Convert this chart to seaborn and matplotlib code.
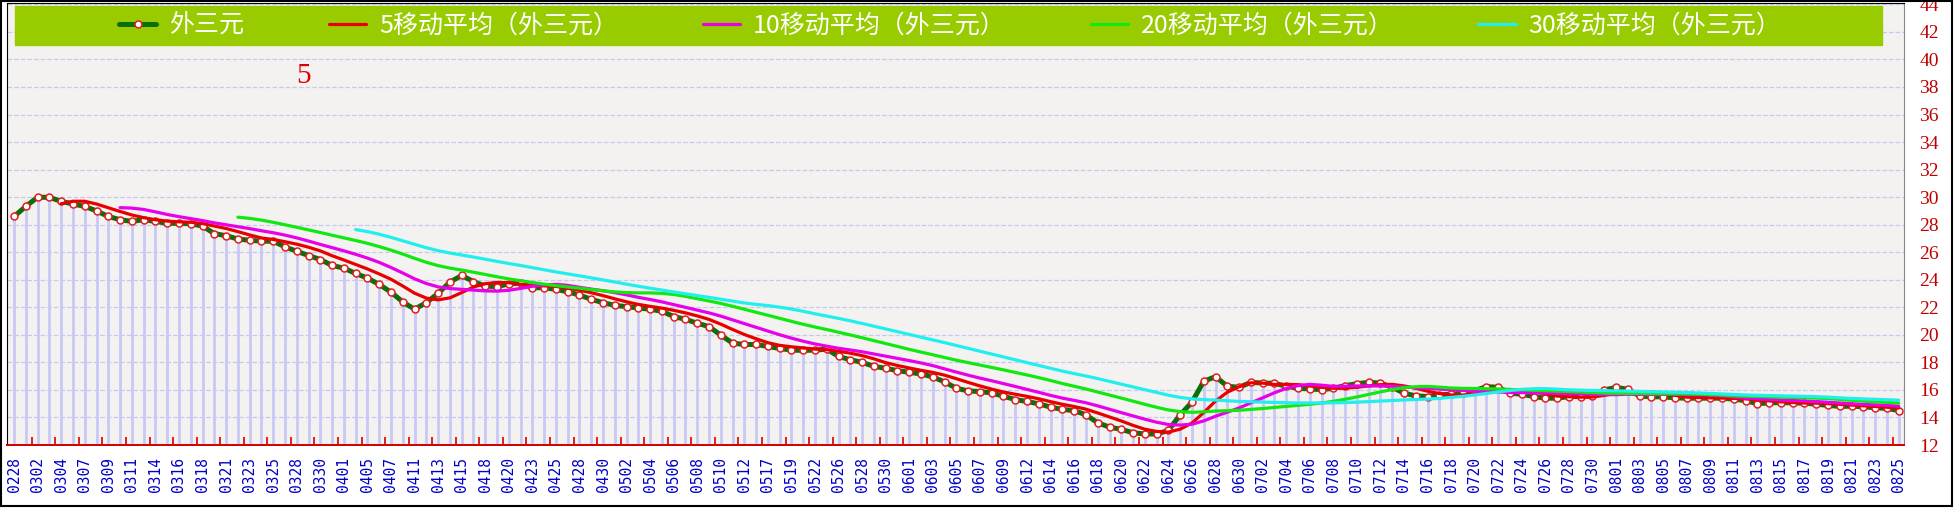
import numpy as np
import pandas as pd
import matplotlib.pyplot as plt
import seaborn as sns

# date labels (every second point carries a label)
dates = ['0228', '0302', '0304', '0307', '0309', '0311', '0314', '0316', '0318', '0321',
         '0323', '0325', '0328', '0330', '0401', '0405', '0407', '0411', '0413', '0415',
         '0418', '0420', '0423', '0425', '0428', '0430', '0502', '0504', '0506', '0508',
         '0510', '0512', '0517', '0519', '0522', '0526', '0528', '0530', '0601', '0603',
         '0605', '0607', '0609', '0612', '0614', '0616', '0618', '0620', '0622', '0624',
         '0626', '0628', '0630', '0702', '0704', '0706', '0708', '0710', '0712', '0714',
         '0716', '0718', '0720', '0722', '0724', '0726', '0728', '0730', '0801', '0803',
         '0805', '0807', '0809', '0811', '0813', '0815', '0817', '0819', '0821', '0823',
         '0825']

# 外三元 price
price_mar = [28.6, 29.33, 30.0, 29.98, 29.7, 29.5, 29.33, 29.0, 28.6, 28.36,
             28.24, 28.36, 28.24, 28.1, 28.1, 28.07, 27.9, 27.35, 27.2, 26.96,
             26.87, 26.8, 26.8, 26.39, 26.07, 25.76, 25.47, 25.04, 24.84, 24.46]
price_apr = [24.12, 23.66, 23.1, 22.39, 21.86, 22.34, 23.01, 23.83, 24.31, 23.87,
             23.54, 23.5, 23.7, 23.75, 23.42, 23.42, 23.3, 23.13, 22.89, 22.58,
             22.34, 22.14, 22.05, 21.95, 21.86, 21.71, 21.33, 21.13, 20.84, 20.6]
price_may = [19.98, 19.4, 19.3, 19.3, 19.16, 19.01, 18.89, 18.87, 18.89, 18.96,
             18.43, 18.19, 18.0, 17.71, 17.57, 17.4, 17.28, 17.16, 16.94, 16.58,
             16.12, 15.93, 15.88, 15.78, 15.54, 15.3, 15.16, 14.99, 14.75, 14.58]
price_jun = [14.5, 14.19, 13.61, 13.3, 13.13, 12.89, 12.8, 12.8, 13.06, 14.19,
             15.11, 16.63, 16.96, 16.27, 16.19, 16.55, 16.5, 16.48, 16.27, 16.12,
             16.07, 16.02, 16.12, 16.31, 16.45, 16.55, 16.5, 16.2, 15.76, 15.57]
price_jul = [15.52, 15.64, 15.69, 15.76, 15.95, 16.24, 16.19, 15.76, 15.69, 15.52,
             15.4, 15.4, 15.52, 15.52, 15.57, 16.0, 16.18, 16.05, 15.55, 15.5,
             15.5, 15.42, 15.4, 15.4, 15.4, 15.4, 15.33, 15.22, 15.0, 15.06,
             15.08, 15.06, 15.04, 14.96, 14.88, 14.8, 14.82, 14.78, 14.7, 14.66,
             14.5]

price = price_mar + price_apr + price_may + price_jun + price_jul
ma_windows = [5, 10, 20, 30]

df = pd.DataFrame({'idx': np.arange(len(price)), 'price': price})
for w in ma_windows:
    df[f'ma{w}'] = df['price'].rolling(w).mean()

sns.set_style('white')
plt.rcParams['font.family'] = ['Noto Sans CJK SC', 'DejaVu Sans']

fig = plt.figure(figsize=(19.54, 5.13), dpi=100)
ax = fig.add_axes([7 / 1954, 68 / 513, 1897 / 1954, 442 / 513])
ax.set_facecolor('#f3f2f0')

# stems
ax.vlines(df['idx'], 12, df['price'], color='#c8c8f6', lw=2.0, zorder=1)

sns.lineplot(data=df, x='idx', y='price', ax=ax, color='#0b6e0b', lw=3.6,
             marker='o', markersize=5, markerfacecolor='white',
             markeredgecolor='#e02020', markeredgewidth=1.1, label='外三元', zorder=3)
ma_colors = ['#e80000', '#e800e8', '#10e810', '#22eeee']
for w, c in zip(ma_windows, ma_colors):
    sns.lineplot(data=df, x='idx', y=f'ma{w}', ax=ax, color=c, lw=2.3,
                 label=f'{w}移动平均（外三元）', zorder=4)

ax.set_xlim(-0.6, 160.45)
ax.set_ylim(12, 44.1)

ax.set_yticks(range(12, 45, 2))
ax.yaxis.tick_right()
ax.tick_params(axis='y', which='major', length=0, pad=11, labelsize=14,
               labelcolor='#c00000')
for t in ax.get_yticklabels():
    t.set_fontfamily('Liberation Serif')
ax.grid(axis='y', color='#c8c8ee', ls='--', lw=0.9)
ax.grid(axis='x', visible=False)

ax.set_xticks(np.arange(0, len(price), 2))
ax.set_xticklabels(dates, rotation=90, fontsize=10.5, color='#0000c8',
                   fontfamily='DejaVu Sans Mono')
ax.set_xticks(np.arange(1.5, len(price), 2), minor=True)
ax.tick_params(axis='x', which='major', length=0, pad=9)
ax.tick_params(axis='x', which='minor', length=6, direction='in', color='#d00000',
               width=1.2, bottom=True)
ax.set_xlabel('')
ax.set_ylabel('')

for side in ['left', 'top']:
    ax.spines[side].set_color('black')
ax.spines['right'].set_color('#888888')
ax.spines['bottom'].set_color('#d00000')
ax.spines['bottom'].set_linewidth(1.4)

ax.text(297 / 1897, 0.835, '5', transform=ax.transAxes,
        color='#dd0000', fontsize=21, fontfamily='Liberation Serif', ha='center', va='center')

leg = ax.legend(loc='center', ncol=5,
                bbox_to_anchor=(943 / 1897, 419.5 / 442),
                borderaxespad=0, fontsize=18, frameon=False,
                handlelength=1.5, handletextpad=0.5, columnspacing=3.4)
for t in leg.get_texts():
    t.set_color('white')
# green legend band behind the items
ax.add_patch(plt.Rectangle((8 / 1897, 400 / 442), 1867 / 1897, 39 / 442,
                           transform=ax.transAxes, color='#99cc00', zorder=5))
leg.set_zorder(6)

fig.add_artist(plt.Rectangle((1 / 1954, 7 / 513), 1951 / 1954, 505 / 513,
                             transform=fig.transFigure, fill=False, ec='black', lw=1.5))

fig.savefig('out.png', dpi=100, facecolor='white')
